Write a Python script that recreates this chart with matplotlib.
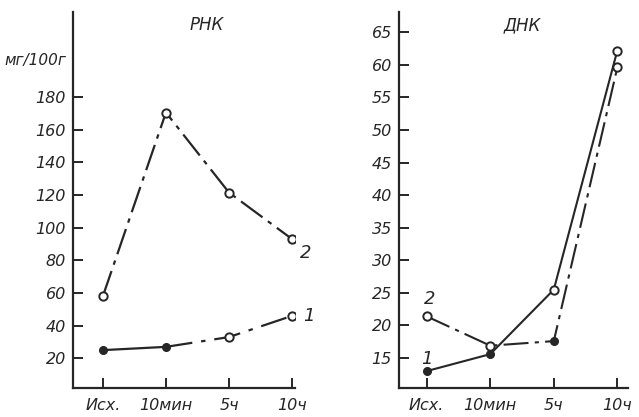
import matplotlib.pyplot as plt

# --- données ---
stages = ['Исх.', '10мин', '5ч', '10ч']

rnk_1 = [25, 27, 33, 46]
rnk_2 = [58, 170.5, 121.5, 93]
dnk_1 = [13.0, 15.6, 25.5, 62.2]
dnk_2 = [21.4, 16.9, 17.6, 59.6]

rnk_ticks = [20, 40, 60, 80, 100, 120, 140, 160, 180]
dnk_ticks = [15, 20, 25, 30, 35, 40, 45, 50, 55, 60, 65]

ink = '#262626'
dashdot = (0, (12, 3, 2, 3))
plt.rcParams['font.family'] = ['DejaVu Sans']
plt.rcParams['font.style'] = 'italic'

fig = plt.figure(figsize=(6.39, 4.17), dpi=100)
ax_l = fig.add_axes([0.114, 0.0695, 0.348, 0.9015])
ax_r = fig.add_axes([0.624, 0.0695, 0.359, 0.9015])
x = list(range(len(stages)))


def style(ax, ticks, ylim, xlim):
    ax.set_xlim(*xlim)
    ax.set_ylim(*ylim)
    ax.set_yticks(ticks)
    ax.set_xticks(x)
    ax.set_xticklabels(stages)
    for s in ['top', 'right']:
        ax.spines[s].set_visible(False)
    for s in ['left', 'bottom']:
        ax.spines[s].set_color(ink)
        ax.spines[s].set_linewidth(1.6)
    ax.tick_params(direction='in', length=7, width=1.4, color=ink,
                   labelsize=11.5, labelcolor=ink, pad=5)
    ax.tick_params(axis='x', pad=7)
    for lab in ax.get_xticklabels() + ax.get_yticklabels():
        lab.set_fontstyle('italic')


# --- РНК ---
ax_l.plot(x[:2], rnk_1[:2], color=ink, lw=1.6)
ax_l.plot(x[1:], rnk_1[1:], color=ink, lw=1.6, linestyle=(0, (12, 4, 2, 4)))
ax_l.plot(x[:2], rnk_1[:2], 'o', color=ink, ms=5.5)
ax_l.plot(x[2:], rnk_1[2:], 'o', mfc='white', mec=ink, mew=1.4, ms=6)
ax_l.plot(x, rnk_2, color=ink, lw=1.6, linestyle=dashdot,
          marker='o', mfc='white', mec=ink, mew=1.4, ms=6)
style(ax_l, rnk_ticks, (1.8, 232), (-0.476, 3.05))
ax_l.text(0.60, 0.965, 'РНК', transform=ax_l.transAxes, fontsize=12,
          style='italic', color=ink, ha='center', va='center')
fig.text(0.055, 0.855, 'мг/100г', fontsize=11, style='italic', color=ink,
         ha='center', va='center')
ax_l.annotate('2', (x[3], rnk_2[3]), xytext=(6, -10), textcoords='offset points',
              fontsize=13, style='italic', color=ink, va='center')
ax_l.annotate('1', (x[3], rnk_1[3]), xytext=(8, 0), textcoords='offset points',
              fontsize=13, style='italic', color=ink, va='center')

# --- ДНК ---
ax_r.plot(x, dnk_1, color=ink, lw=1.5)
ax_r.plot(x[:2], dnk_1[:2], 'o', color=ink, ms=5.5)
ax_r.plot(x[2:], dnk_1[2:], 'o', mfc='white', mec=ink, mew=1.4, ms=6)
ax_r.plot(x, dnk_2, color=ink, lw=1.5, linestyle=dashdot)
ax_r.plot(x[:2] + x[3:], dnk_2[:2] + dnk_2[3:], 'o', mfc='white', mec=ink,
          mew=1.4, ms=6)
ax_r.plot(x[2], dnk_2[2], 'o', color=ink, ms=5.5)
style(ax_r, dnk_ticks, (10.4, 68.1), (-0.44, 3.17))
ax_r.text(0.54, 0.965, 'ДНК', transform=ax_r.transAxes, fontsize=12,
          style='italic', color=ink, ha='center', va='center')
ax_r.annotate('2', (x[0], dnk_2[0]), xytext=(2, 9), textcoords='offset points',
              fontsize=13, style='italic', color=ink, ha='center')
ax_r.annotate('1', (x[0], dnk_1[0]), xytext=(0, 5), textcoords='offset points',
              fontsize=13, style='italic', color=ink, ha='center')

fig.savefig('out.png', dpi=100)
